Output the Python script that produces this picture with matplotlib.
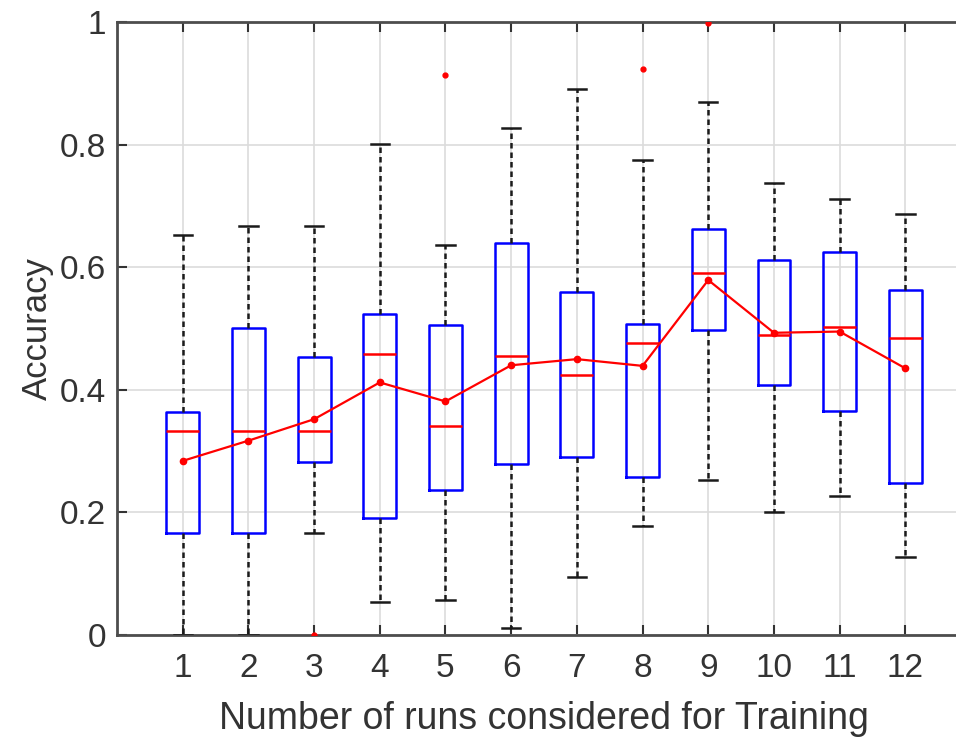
import matplotlib
matplotlib.use("Agg")
import matplotlib.pyplot as plt

plt.rcParams['font.family'] = ['Liberation Sans', 'DejaVu Sans']

categories = [1, 2, 3, 4, 5, 6, 7, 8, 9, 10, 11, 12]
whisker_low = [0.0, 0.0, 0.167, 0.053, 0.057, 0.011, 0.094, 0.178, 0.253, 0.201, 0.226, 0.128]
q1 = [0.166, 0.166, 0.283, 0.191, 0.237, 0.279, 0.290, 0.258, 0.498, 0.407, 0.366, 0.248]
median = [0.332, 0.333, 0.333, 0.458, 0.341, 0.455, 0.424, 0.477, 0.591, 0.490, 0.502, 0.485]
q3 = [0.363, 0.500, 0.453, 0.524, 0.506, 0.639, 0.559, 0.507, 0.662, 0.611, 0.624, 0.563]
whisker_high = [0.652, 0.667, 0.667, 0.801, 0.636, 0.827, 0.891, 0.775, 0.869, 0.738, 0.711, 0.687]
means = [0.284, 0.317, 0.352, 0.412, 0.381, 0.440, 0.450, 0.439, 0.579, 0.493, 0.495, 0.435]
outliers = [[], [], [0.0], [], [0.913], [], [], [0.923], [0.998], [], [], []]
xtick_labels = ['1', '2', '3', '4', '5', '6', '7', '8', '9', '10', '11', '12']
yticks = [0, 0.2, 0.4, 0.6, 0.8, 1.0]
ytick_labels = ['0', '0.2', '0.4', '0.6', '0.8', '1']

fig = plt.figure(figsize=(9.56, 7.38), dpi=100)
ax = fig.add_axes([0.1224, 0.1396, 0.8933, 0.8306])

stats = []
for i in range(len(categories)):
    stats.append(dict(med=median[i], q1=q1[i], q3=q3[i], whislo=whisker_low[i],
                      whishi=whisker_high[i], fliers=outliers[i], mean=means[i]))

ax.bxp(stats, positions=categories, widths=0.5, showmeans=False, showfliers=True,
       boxprops=dict(color='#0000FF', linewidth=1.8),
       medianprops=dict(color='#FF0000', linewidth=1.8),
       whiskerprops=dict(color='#1a1a1a', linewidth=1.8, linestyle=(0, (2.2, 1.6))),
       capprops=dict(color='#1a1a1a', linewidth=1.8),
       capwidths=0.28,
       flierprops=dict(marker='o', markersize=3.5, markerfacecolor='#FF0000',
                       markeredgecolor='#FF0000', linestyle='none'),
       zorder=3)

ax.plot(categories, means, color='#FF0000', linewidth=1.6, marker='o', markersize=4.5,
        zorder=4)

ax.set_xlim(0, 13)
ax.set_ylim(0, 1)
ax.set_xticks(categories)
ax.set_xticklabels(xtick_labels)
ax.set_yticks(yticks)
ax.set_yticklabels(ytick_labels)

ax.grid(True, color='#dcdcdc', linewidth=1.2, zorder=0)
ax.set_axisbelow(True)

ax.tick_params(direction='in', length=7, width=1.5, colors='#333333', labelsize=24,
               top=True, right=True)
ax.tick_params(axis='x', pad=13)
ax.tick_params(axis='y', pad=8)
for s in ax.spines.values():
    s.set_color('#4d4d4d')
    s.set_linewidth(2.0)

ax.set_xlabel('Number of runs considered for Training', fontsize=27, color='#333333',
              labelpad=12)
ax.set_ylabel('Accuracy', fontsize=25, color='#333333', labelpad=4)

fig.savefig('out.png', dpi=100)
